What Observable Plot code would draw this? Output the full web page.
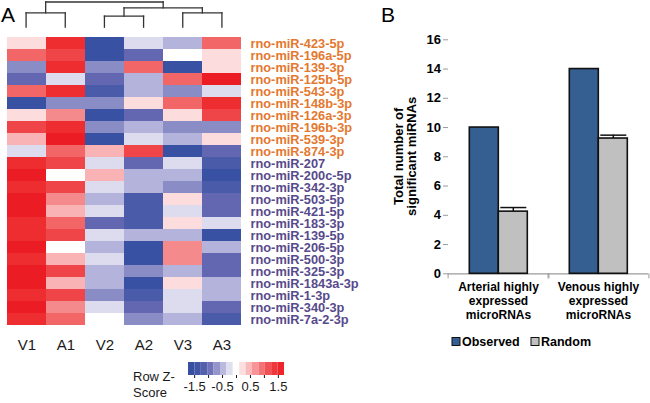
<!DOCTYPE html>
<html><head><meta charset="utf-8">
<script src="https://cdn.jsdelivr.net/npm/d3@7"></script>
<script src="https://cdn.jsdelivr.net/npm/@observablehq/plot@0.6"></script>
<style>
body{margin:0;background:#fff;font-family:"Liberation Sans",Arial,sans-serif;}
#fig{position:relative;width:650px;height:403px;overflow:hidden;background:#fff;}
#fig > *{position:absolute;}
</style></head><body><div id="fig"></div>
<script>
// ---------- Panel A data ----------
const samples = ["V1","A1","V2","A2","V3","A3"];
const arterialMiRNAs = ["rno-miR-423-5p","rno-miR-196a-5p","rno-miR-139-3p","rno-miR-125b-5p","rno-miR-543-3p","rno-miR-148b-3p","rno-miR-126a-3p","rno-miR-196b-3p","rno-miR-539-3p","rno-miR-874-3p"];
const venousMiRNAs = ["rno-miR-207","rno-miR-200c-5p","rno-miR-342-3p","rno-miR-503-5p","rno-miR-421-5p","rno-miR-183-3p","rno-miR-139-5p","rno-miR-206-5p","rno-miR-500-3p","rno-miR-325-3p","rno-miR-1843a-3p","rno-miR-1-3p","rno-miR-340-3p","rno-miR-7a-2-3p"];
// row z-scores, one array per sample column (rows in label order)
const zV1 = [0.25,1.0,-0.75,-1.0,1.0,-1.5,0.25,1.25,0.5,-0.25,1.5,1.75,1.5,1.75,1.75,1.5,1.5,1.75,1.5,1.75,1.75,1.5,1.75,1.5];
const zA1 = [1.5,1.25,1.5,-0.25,1.5,-0.75,0.75,1.5,1.75,1.0,1.25,0,1.25,0.75,0.5,1.0,1.25,0,0.5,1.25,0.5,1.25,0.75,1.0];
const zV2 = [-1.5,-1.5,-0.75,-1.0,-1.25,-0.75,-1.5,-0.75,-1.5,0.5,-0.25,0.5,-0.25,-0.5,-0.25,-1.0,-0.25,-0.5,-0.25,-0.5,-0.5,-0.75,-0.25,0];
const zA2 = [-0.25,-1.0,1.0,-0.5,-0.5,0.25,-1.0,-0.5,-0.25,1.25,-1.0,-0.5,-0.5,-1.25,-1.25,-1.25,-0.5,-1.5,-1.5,-0.75,-1.5,-1.25,-1.0,-0.75];
const zV3 = [-0.5,0,-1.5,1.0,-0.75,1.0,0.25,-0.75,-0.5,-1.5,-0.25,-0.5,-0.75,0.25,-0.25,0.25,-0.5,0.75,0.75,-0.5,0.25,-0.25,-0.25,-0.5];
const zA3 = [1.0,0.25,0.25,1.75,-0.25,1.5,1.25,-0.75,0.25,-1.0,-1.25,-1.5,-1.25,-1.0,-1.0,-0.25,-1.5,-0.5,-1.0,-1.0,-0.5,-0.5,-1.0,-1.25];
// column dendrogram (merge heights, relative)
const dendroMerges = [
  {id:"n1", left:"V1", right:"A1", height:0.57},
  {id:"n2", left:"V2", right:"A2", height:0.44},
  {id:"n3", left:"V3", right:"A3", height:0.57},
  {id:"n4", left:"n2", right:"n3", height:0.77},
  {id:"n5", left:"n1", right:"n4", height:1.0}
];
const zStops  = [-1.75,-1.5,-1.25,-1,-0.75,-0.5,-0.25,0,0.25,0.5,0.75,1,1.25,1.5,1.75];
const zColors = ["#314d9e","#3951a2","#4a5baa","#6366b0","#8a8cc6","#b3b3db","#dcdcee","#ffffff","#fddcdd","#f9b3b5","#f58a8d","#f26667","#ef4448","#ee2d31","#ec1c24"];
const legendTicks = [-1.5,-1,-0.5,0,0.5,1,1.5];
const legendLabels = [-1.5,-0.5,0.5,1.5];

// ---------- Panel B data ----------
const groupLabels = ["Arterial highly\nexpressed\nmicroRNAs","Venous highly\nexpressed\nmicroRNAs"];
const seriesNames = ["Observed","Random"];
const observedCounts = [10,14];
const randomMeans = [4.25,9.25];
const randomErrors = [0.28,0.23];
const yTicks = [0,2,4,6,8,10,12,14,16];
const barColors = ["#365f91","#c0c0c0"];

const orange = "#e4782f", purple = "#574a8c";
const font = "Liberation Sans, Arial, sans-serif";
const fig = document.getElementById("fig");

// ---------- heatmap ----------
const miRNAs = arterialMiRNAs.concat(venousMiRNAs);
const zCols = [zV1,zA1,zV2,zA2,zV3,zA3];
const cells = [];
samples.forEach((s,j) => miRNAs.forEach((m,i) => cells.push({sample:s, miRNA:m, z:zCols[j][i]})));
const colorScale = {type:"linear", domain:zStops, range:zColors};

const heat = Plot.plot({
  width:380, height:360, marginLeft:6, marginRight:139, marginTop:32, marginBottom:30,
  style:{fontFamily:font, background:"transparent", color:"#1a1a1a"},
  x:{domain:samples, padding:0},
  y:{domain:miRNAs, padding:0, axis:null},
  color:colorScale,
  marks:[
    Plot.cell(cells, {x:"sample", y:"miRNA", fill:"z"}),
    Plot.text(arterialMiRNAs, {y:d=>d, frameAnchor:"right", textAnchor:"start", dx:9, fill:orange, fontWeight:"bold", fontSize:12.8}),
    Plot.text(venousMiRNAs, {y:d=>d, frameAnchor:"right", textAnchor:"start", dx:9, fill:purple, fontWeight:"bold", fontSize:12.8}),
    Plot.axisX({anchor:"bottom", tickSize:0, tickPadding:9, fontSize:15, label:null})
  ]
});
heat.style.left="0px"; heat.style.top="0px";
fig.appendChild(heat);

// ---------- dendrogram ----------
const nodes = {};
samples.forEach((s,i) => nodes[s] = {x:i, h:0});
const segs = [];
dendroMerges.forEach(m => {
  const L = nodes[m.left], R = nodes[m.right];
  nodes[m.id] = {x:(L.x+R.x)/2, h:m.height};
  segs.push({x1:L.x, y1:L.h, x2:L.x, y2:m.height});
  segs.push({x1:R.x, y1:R.h, x2:R.x, y2:m.height});
  segs.push({x1:L.x, y1:m.height, x2:R.x, y2:m.height});
});
const dendro = Plot.plot({
  width:380, height:32, marginLeft:6, marginRight:139, marginTop:1.5, marginBottom:5.3,
  style:{background:"transparent"},
  x:{domain:[-0.5,5.5], axis:null},
  y:{domain:[0,1], axis:null},
  marks:[Plot.link(segs, {x1:"x1", y1:"y1", x2:"x2", y2:"y2", stroke:"#333", strokeWidth:1.3, strokeLinecap:"square"})]
});
dendro.style.left="0px"; dendro.style.top="0px";
fig.appendChild(dendro);

// ---------- color legend ----------
const nSteps = 15, lo = -1.72, hi = 1.72, sw = (hi-lo)/nSteps;
const legendSteps = d3.range(nSteps).map(i => lo + (i+0.5)*sw);
const leg = Plot.plot({
  width:300, height:48, marginLeft:188, marginRight:16, marginTop:7, marginBottom:28,
  style:{fontFamily:font, background:"transparent", color:"#1a1a1a"},
  x:{domain:[lo,hi]},
  color:colorScale,
  marks:[
    Plot.rect(legendSteps, {x1:d=>d-sw/2, x2:d=>d+sw/2, fill:d=>d}),
    Plot.axisX({ticks:legendTicks, tickSize:3, tickPadding:3, fontSize:13, label:null,
      tickFormat:d => legendLabels.includes(d) ? d.toFixed(1) : ""})
  ]
});
leg.style.left="0px"; leg.style.top="355px";
fig.appendChild(leg);

// ---------- bar chart ----------
const barData = groupLabels.flatMap((g,i) => [
  {group:g, series:seriesNames[0], value:observedCounts[i]},
  {group:g, series:seriesNames[1], value:randomMeans[i], err:randomErrors[i]}
]);
const errData = barData.filter(d => d.err != null);
const facetHalf = (650-380-66.7-1.7)/groupLabels.length/2;
const bars = Plot.plot({
  width:270, height:403, marginLeft:66.7, marginRight:1.7, marginTop:39.3, marginBottom:129.7,
  style:{fontFamily:font, background:"transparent", color:"#000"},
  fx:{domain:groupLabels, padding:0, label:null},
  x:{domain:seriesNames, paddingInner:0, paddingOuter:0.72, axis:null},
  y:{domain:[0,16], label:null},
  color:{domain:seriesNames, range:barColors},
  marks:[
    Plot.ruleY([0], {stroke:"#9a9a9a", strokeWidth:1.2}),
    Plot.barY(barData, {fx:"group", x:"series", y:"value", fill:"series", stroke:"#111", strokeWidth:1.6}),
    Plot.ruleX(errData, {fx:"group", x:"series", y1:"value", y2:d=>d.value+d.err, stroke:"#111", strokeWidth:1.5}),
    Plot.tickY(errData, {fx:"group", x:"series", y:d=>d.value+d.err, stroke:"#111", strokeWidth:1.5, insetLeft:2, insetRight:1}),
    Plot.axisY({ticks:yTicks, tickSize:5, tickFormat:()=>"", stroke:"#9a9a9a", line:true, label:null}),
    Plot.axisY({ticks:yTicks, tickSize:0, tickPadding:7.5, fontSize:13, fontWeight:"bold", label:null}),
    Plot.axisFx({anchor:"bottom", tickSize:5, tickFormat:()=>"", dx:-facetHalf, stroke:"#9a9a9a", label:null}),
    Plot.axisFx({anchor:"bottom", tickSize:5, tickFormat:()=>"", dx:facetHalf, stroke:"#9a9a9a", label:null}),
    Plot.axisFx({anchor:"bottom", tickSize:0, tickPadding:8, fontSize:12, fontWeight:"bold", lineHeight:1.13, label:null})
  ]
});
bars.style.left="380px"; bars.style.top="0px";
fig.appendChild(bars);

// ---------- annotations (panel letters, titles, legend) ----------
const svg = d3.select(fig).append("svg").attr("width",650).attr("height",403)
  .style("left","0px").style("top","0px").style("font-family",font);
svg.append("text").attr("x",1).attr("y",21.5).attr("font-size",21).text("A");
svg.append("text").attr("x",381).attr("y",21.5).attr("font-size",21).text("B");
svg.append("text").attr("x",133).attr("y",381).attr("font-size",13).attr("fill","#1a1a1a").text("Row Z-");
svg.append("text").attr("x",133).attr("y",397).attr("font-size",13).attr("fill","#1a1a1a").text("Score");
const yTitle = ["Total number of","significant miRNAs"];
yTitle.forEach((t,i) => svg.append("text")
  .attr("transform",`translate(${402.5+i*13.7},156.3) rotate(-90)`)
  .attr("text-anchor","middle").attr("font-size",13).attr("font-weight","bold").text(t));
const legX = [452, 531];
seriesNames.forEach((s,i) => {
  svg.append("rect").attr("x",legX[i]).attr("y",337.5).attr("width",8).attr("height",8)
    .attr("fill",barColors[i]).attr("stroke","#111").attr("stroke-width",1);
  svg.append("text").attr("x",legX[i]+10).attr("y",346).attr("font-size",12.5).attr("font-weight","bold").text(s);
});
</script></body></html>
